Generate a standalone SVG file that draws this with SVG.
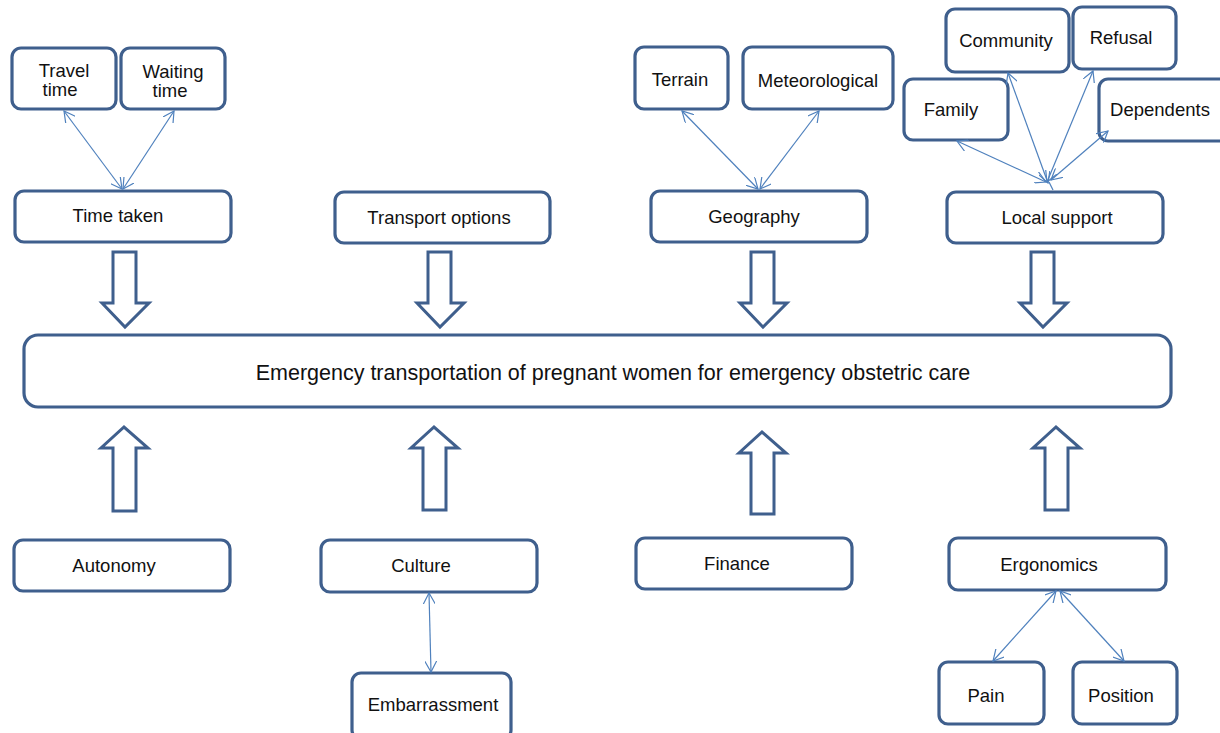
<svg xmlns="http://www.w3.org/2000/svg" width="1220" height="733" viewBox="0 0 1220 733">
<defs>
<style>
.box{fill:#fff;stroke:#3f5f8d;stroke-width:3.2}
.blk{fill:#fff;stroke:#3f5f8d;stroke-width:3;stroke-linejoin:miter}
.t{font-family:"Liberation Sans",Arial,sans-serif;font-size:18.5px;fill:#111;text-anchor:middle}
.big{font-size:21.5px}
.c{stroke:#4f81bd;stroke-width:1.2;fill:none;marker-start:url(#ah);marker-end:url(#ah)}
</style>
<marker id="ah" viewBox="0 0 12 12" refX="11" refY="6" markerWidth="12" markerHeight="12" markerUnits="userSpaceOnUse" orient="auto-start-reverse">
<path d="M0,0 L11,6 L0,12" fill="none" stroke="#4f81bd" stroke-width="1.2"/>
</marker>
</defs>
<rect width="1220" height="733" fill="#fff"/>

<g id="block-arrows">
<path class="blk" d="M113,252 H136 V303 H149 L125,327 L102,303 H113 Z"/>
<path class="blk" d="M428,252 H451 V303 H464 L440,327 L417,303 H428 Z"/>
<path class="blk" d="M751,252 H774 V303 H787 L763,327 L740,303 H751 Z"/>
<path class="blk" d="M1031,252 H1054 V303 H1067 L1043,327 L1020,303 H1031 Z"/>
<path class="blk" d="M113,511 H136 V448 H148 L124,427 L101,448 H113 Z"/>
<path class="blk" d="M423,510 H446 V448 H458 L434,427 L411,448 H423 Z"/>
<path class="blk" d="M751,514 H774 V453 H786 L762,432 L739,453 H751 Z"/>
<path class="blk" d="M1045,510 H1068 V448 H1080 L1056,427 L1033,448 H1045 Z"/>
</g>

<g id="n-travel"><rect class="box" x="12" y="48" width="104" height="61" rx="9"/><text class="t" x="64" y="77">Travel</text><text class="t" x="60" y="96">time</text></g>
<g id="n-waiting"><rect class="box" x="121" y="48" width="104" height="61" rx="9"/><text class="t" x="173" y="78">Waiting</text><text class="t" x="170" y="97">time</text></g>
<g id="n-timetaken"><rect class="box" x="15" y="191" width="216" height="51" rx="9"/><text class="t" x="118" y="222">Time taken</text></g>
<g id="n-transport"><rect class="box" x="335" y="192" width="215" height="51" rx="9"/><text class="t" x="439" y="224">Transport options</text></g>
<g id="n-terrain"><rect class="box" x="635" y="47" width="93" height="62" rx="9"/><text class="t" x="680" y="86">Terrain</text></g>
<g id="n-meteo"><rect class="box" x="743" y="47" width="150" height="62" rx="9"/><text class="t" x="818" y="87">Meteorological</text></g>
<g id="n-geography"><rect class="box" x="651" y="191" width="216" height="51" rx="9"/><text class="t" x="754" y="223">Geography</text></g>
<g id="n-community"><rect class="box" x="946" y="9" width="123" height="63" rx="9"/><text class="t" x="1006" y="47">Community</text></g>
<g id="n-refusal"><rect class="box" x="1073" y="7" width="103" height="62" rx="9"/><text class="t" x="1121" y="44">Refusal</text></g>
<g id="n-family"><rect class="box" x="904" y="79" width="104" height="61" rx="9"/><text class="t" x="951" y="116">Family</text></g>
<g id="n-dependents"><rect class="box" x="1099" y="79" width="130" height="62" rx="9"/><text class="t" x="1160" y="116">Dependents</text></g>
<g id="n-local"><rect class="box" x="947" y="192" width="216" height="51" rx="9"/><text class="t" x="1057" y="224">Local support</text></g>

<g id="n-main"><rect class="box" x="24" y="335" width="1147" height="72" rx="14"/><text class="t big" x="613" y="380">Emergency transportation of pregnant women for emergency obstetric care</text></g>

<g id="n-autonomy"><rect class="box" x="14" y="540" width="216" height="51" rx="9"/><text class="t" x="114" y="572">Autonomy</text></g>
<g id="n-culture"><rect class="box" x="321" y="540" width="216" height="52" rx="9"/><text class="t" x="421" y="572">Culture</text></g>
<g id="n-finance"><rect class="box" x="636" y="538" width="216" height="51" rx="9"/><text class="t" x="737" y="570">Finance</text></g>
<g id="n-ergonomics"><rect class="box" x="949" y="538" width="217" height="52" rx="9"/><text class="t" x="1049" y="571">Ergonomics</text></g>
<g id="n-embarrassment"><rect class="box" x="352" y="673" width="159" height="66" rx="9"/><text class="t" x="433" y="711">Embarrassment</text></g>
<g id="n-pain"><rect class="box" x="939" y="662" width="105" height="62" rx="9"/><text class="t" x="986" y="702">Pain</text></g>
<g id="n-position"><rect class="box" x="1073" y="662" width="104" height="62" rx="9"/><text class="t" x="1121" y="702">Position</text></g>

<g id="connectors">
<line class="c" x1="64" y1="111" x2="122" y2="189"/>
<line class="c" x1="174" y1="111" x2="123" y2="189"/>
<line class="c" x1="682" y1="111" x2="758" y2="189"/>
<line class="c" x1="819" y1="111" x2="760" y2="189"/>
<line class="c" x1="1008" y1="73" x2="1048" y2="183"/>
<line class="c" x1="1093" y1="71" x2="1047" y2="182"/>
<line class="c" x1="957" y1="141" x2="1046" y2="182"/>
<line class="c" x1="1108" y1="131" x2="1051" y2="180"/>
<line stroke="#4f81bd" stroke-width="1.2" x1="1049" y1="182" x2="1053" y2="190"/>
<line class="c" x1="429" y1="593" x2="431" y2="672"/>
<line class="c" x1="1056" y1="591" x2="993" y2="661"/>
<line class="c" x1="1060" y1="591" x2="1124" y2="661"/>
</g>
</svg>
